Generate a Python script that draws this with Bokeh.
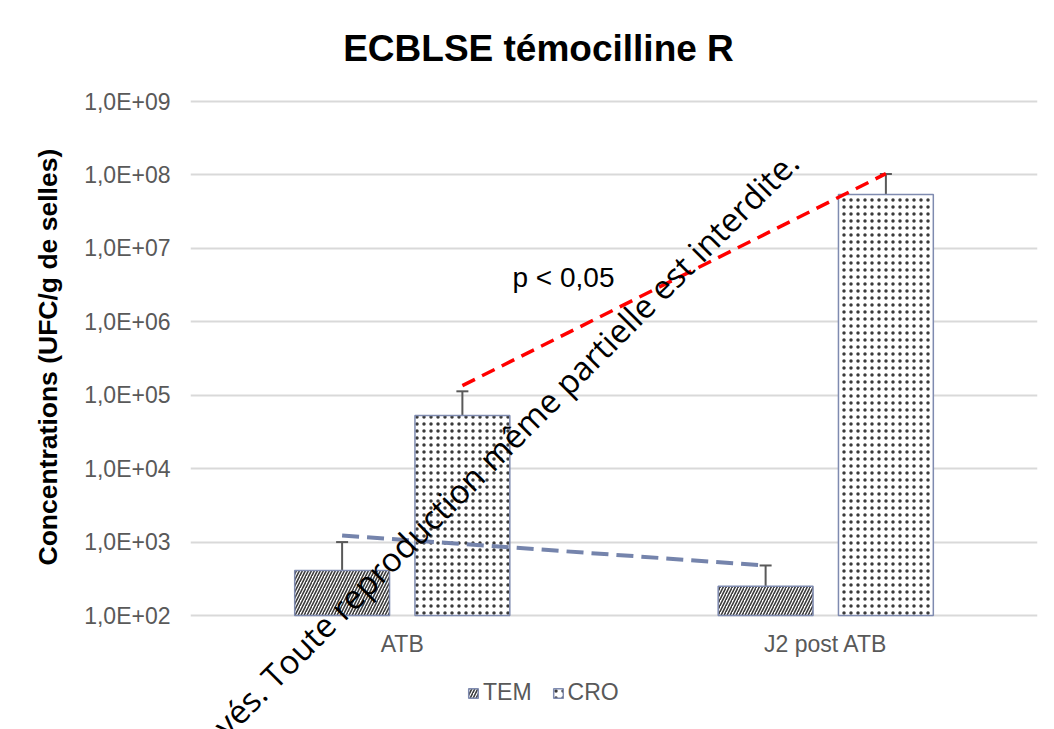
from bokeh.plotting import figure
from bokeh.models import (FactorRange, Range1d, ColumnDataSource, Whisker, TeeHead,
                          Label, Legend, LegendItem, FixedTicker, Title)
from bokeh.transform import dodge
from bokeh.core.properties import value
from bokeh.embed import file_html
from bokeh.resources import INLINE

# ---- data ----
categories = ["ATB", "J2 post ATB"]
series = ["TEM", "CRO"]
tem_values = [410, 250]
tem_err_upper = [1000, 480]
cro_values = [53000, 5.4e7]
cro_err_upper = [1.13e5, 1.03e8]
tem_trend = [1230, 480]
cro_trend = [1.35e5, 1.04e8]
y_ticks = [100, 1000, 10000, 100000, 1000000, 10000000, 100000000, 1000000000]
y_tick_labels = ["1,0E+02", "1,0E+03", "1,0E+04", "1,0E+05",
                 "1,0E+06", "1,0E+07", "1,0E+08", "1,0E+09"]
title_text = "ECBLSE témocilline R"
y_label = "Concentrations (UFC/g de selles)"
p_text = "p < 0,05"
watermark = "vés. Toute reproduction même partielle est interdite."

FONT = "Liberation Sans"
GREY = "#595959"
GRID = "#d9d9d9"
OUTLINE = "#7f8bb0"
OFF = 0.142
BW = 0.224

W, H = 1054, 729
TOP, LEFT, RIGHT = 101, 190, 17    # pixel position of the 1e9 line / plot edges
AXIS_PX = 514                      # pixels from 1e2 to 1e9
decade_px = AXIS_PX / 7.0
below_px = H - TOP - AXIS_PX       # frame extends below the 1e2 baseline
y_start = 10 ** (2 - below_px / decade_px)
y_end = 10 ** (9 + TOP / decade_px)


def y_at(px_from_top):
    """log-axis value that sits at a given pixel row of the figure"""
    return 10 ** (9 - (px_from_top - TOP) / decade_px)


def x_at(px_from_left):
    return (px_from_left - LEFT) / ((W - LEFT - RIGHT) / len(categories))


p = figure(width=W, height=H, title=None,
           x_range=FactorRange(*categories),
           y_range=Range1d(y_start, y_end),
           y_axis_type="log",
           output_backend="svg", toolbar_location=None,
           min_border_left=LEFT, min_border_right=RIGHT,
           min_border_top=0, min_border_bottom=0)
p.outline_line_color = None

# axes
p.xaxis.visible = False
p.yaxis.ticker = FixedTicker(ticks=y_ticks)
p.yaxis.major_label_overrides = dict(zip(y_ticks, y_tick_labels))
p.yaxis.axis_line_color = None
p.yaxis.major_tick_line_color = None
p.yaxis.minor_tick_line_color = None
p.yaxis.major_tick_out = 0
p.yaxis.major_tick_in = 0
p.yaxis.minor_tick_out = 0
p.yaxis.minor_tick_in = 0
p.yaxis.major_label_text_font = FONT
p.yaxis.major_label_text_font_size = "23px"
p.yaxis.major_label_text_color = GREY
p.yaxis.major_label_standoff = 20

p.add_layout(Title(text=y_label, align="left", offset=164, standoff=37,
                   text_font=FONT, text_font_size="26.5px", text_font_style="bold",
                   text_color="black"), "left")

p.xgrid.grid_line_color = None
p.ygrid.grid_line_color = GRID
p.ygrid.grid_line_width = 2

src_tem = ColumnDataSource(dict(cat=categories, val=tem_values, up=tem_err_upper, trend=tem_trend))
src_cro = ColumnDataSource(dict(cat=categories, val=cro_values, up=cro_err_upper, trend=cro_trend))

r_tem = p.vbar(x=dodge("cat", -OFF, range=p.x_range), top="val", bottom=y_ticks[0],
               width=BW, source=src_tem, fill_color="white",
               hatch_pattern="/", hatch_color="#3a3a3a", hatch_scale=6, hatch_weight=1.6,
               line_color=OUTLINE, line_width=1.5)
r_cro = p.vbar(x=dodge("cat", OFF, range=p.x_range), top="val", bottom=y_ticks[0],
               width=BW, source=src_cro, fill_color="white",
               hatch_pattern="dot", hatch_color="#3a3a3a", hatch_scale=7, hatch_weight=1.2,
               line_color=OUTLINE, line_width=1.5)

for src, off in ((src_tem, -OFF), (src_cro, OFF)):
    w = Whisker(base=dodge("cat", off, range=p.x_range), upper="up", lower="val",
                source=src, dimension="height", line_color=GREY, line_width=2,
                upper_head=TeeHead(size=12, line_color=GREY, line_width=2),
                lower_head=None)
    p.add_layout(w)

p.line(x=dodge("cat", -OFF, range=p.x_range), y="trend", source=src_tem,
       line_color="#7584ac", line_width=4, line_dash="17 8")
p.line(x=dodge("cat", OFF, range=p.x_range), y="trend", source=src_cro,
       line_color="#ff0000", line_width=3.5, line_dash="14 8")

# category labels (drawn below the 1e2 baseline)
p.text(x=categories, y=[y_at(643)] * len(categories), text=categories,
       text_font=value(FONT), text_font_size="23px", text_color=GREY,
       text_align="center", text_baseline="middle")

# chart title
p.add_layout(Label(x=x_at(538), y=y_at(48), text=title_text, text_font=FONT,
                   text_font_size="37px", text_font_style="bold", text_color="black",
                   text_align="center", text_baseline="middle"))

p.add_layout(Label(x=x_at(512), y=y_at(277), text=p_text, text_font=FONT,
                   text_font_size="28px", text_color="black", text_baseline="middle"))

p.add_layout(Label(x=x_at(792), y=y_at(156), text=watermark, text_font="Open Sans",
                   text_font_size="33px", text_color="black", text_align="right",
                   text_baseline="middle", angle=45, angle_units="deg"))

legend = Legend(items=[LegendItem(label=series[0], renderers=[r_tem]),
                       LegendItem(label=series[1], renderers=[r_cro])],
                orientation="horizontal", location=(277, 23),
                label_text_font=FONT, label_text_font_size="23px", label_text_color=GREY,
                glyph_width=12, glyph_height=12, label_standoff=4, spacing=20,
                padding=0, margin=0, border_line_color=None, background_fill_alpha=0)
p.add_layout(legend)

open("out.html", "w").write(file_html(p, INLINE))
